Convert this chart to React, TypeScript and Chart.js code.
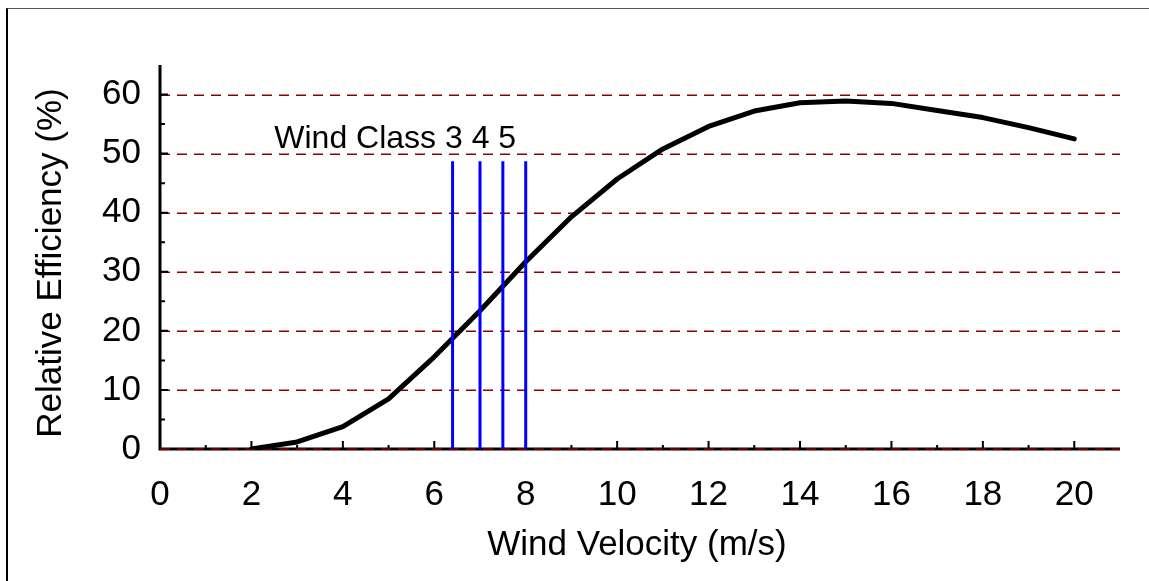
import React, { useEffect, useRef } from "react";
import { Chart, registerables } from "chart.js";

Chart.register(...registerables);

// ---- data ----
const velocity = [2, 3, 4, 5, 6, 7, 8, 9, 10, 11, 12, 13, 14, 15, 16, 17, 18, 19, 20];
const efficiency = [0, 1.2, 3.8, 8.5, 15.6, 23.4, 31.7, 39.3, 45.7, 50.8, 54.6, 57.2, 58.6, 58.9, 58.5, 57.3, 56.1, 54.4, 52.5];
const classBounds = [6.4, 7.0, 7.5, 8.0];
const classLineTop = [48.7, 48.7, 48.7, 48.7];
const classLabel = "Wind Class 3 4 5";
const classLabelAnchor = [2.5, 50.9];
const xTickValues = [0, 2, 4, 6, 8, 10, 12, 14, 16, 18, 20];
const yTickValues = [0, 10, 20, 30, 40, 50, 60];
const xTitle = "Wind Velocity (m/s)";
const yTitle = "Relative Efficiency (%)";

const FONT = "'Liberation Sans', Arial, sans-serif";
const GRID_RED = "#8b0000";

const axesPlugin = {
  id: "customAxes",
  beforeDatasetsDraw(chart: any) {
    const { ctx, chartArea } = chart;
    const xs = chart.scales.x;
    const ys = chart.scales.y;
    const left = chartArea.left;
    const right = chartArea.right;
    const bottom = ys.getPixelForValue(0);
    const top = chartArea.top;

    ctx.save();
    // dashed grid lines
    ctx.strokeStyle = GRID_RED;
    ctx.lineWidth = 1.5;
    ctx.setLineDash([10, 7]);
    ctx.lineDashOffset = 0;
    yTickValues.forEach((v) => {
      if (v === 0) return;
      const py = Math.round(ys.getPixelForValue(v)) + 0.25;
      ctx.beginPath();
      ctx.moveTo(left, py);
      ctx.lineTo(right, py);
      ctx.stroke();
    });
    ctx.setLineDash([]);

    // axes lines
    ctx.strokeStyle = "#000";
    ctx.lineWidth = 3;
    ctx.beginPath();
    ctx.moveTo(left, top);
    ctx.lineTo(left, bottom);
    ctx.moveTo(left - 1.5, bottom);
    ctx.lineTo(right, bottom);
    ctx.stroke();

    // ticks (inside)
    ctx.lineWidth = 2;
    ctx.beginPath();
    xTickValues.forEach((v) => {
      const px = xs.getPixelForValue(v);
      ctx.moveTo(px, bottom);
      ctx.lineTo(px, bottom - 8);
      const mid = v + 1;
      if (mid < xs.max) {
        const pm = xs.getPixelForValue(mid);
        ctx.moveTo(pm, bottom);
        ctx.lineTo(pm, bottom - 4);
      }
    });
    yTickValues.forEach((v) => {
      const py = ys.getPixelForValue(v);
      ctx.moveTo(left, py);
      ctx.lineTo(left + 8, py);
      const mid = v + 5;
      if (mid < ys.max) {
        const pm = ys.getPixelForValue(mid);
        ctx.moveTo(left, pm);
        ctx.lineTo(left + 5, pm);
      }
    });
    ctx.stroke();

    // zero grid line over the axis
    ctx.strokeStyle = GRID_RED;
    ctx.lineWidth = 1.5;
    ctx.setLineDash([10, 7]);
    ctx.beginPath();
    ctx.moveTo(left, bottom);
    ctx.lineTo(right, bottom);
    ctx.stroke();
    ctx.setLineDash([]);

    // titles
    ctx.fillStyle = "#000";
    ctx.font = `35px ${FONT}`;
    ctx.textAlign = "center";
    ctx.textBaseline = "alphabetic";
    ctx.fillText(xTitle, (left + right) / 2 - 3, bottom + 106);
    ctx.save();
    ctx.translate(61, (top + bottom) / 2 + 6);
    ctx.rotate(-Math.PI / 2);
    ctx.fillText(yTitle, 0, 0);
    ctx.restore();
    ctx.restore();
  },
  afterDatasetsDraw(chart: any) {
    const { ctx } = chart;
    const xs = chart.scales.x;
    const ys = chart.scales.y;
    ctx.save();
    ctx.fillStyle = "#000";
    ctx.font = `32px ${FONT}`;
    ctx.textAlign = "left";
    ctx.textBaseline = "alphabetic";
    ctx.fillText(classLabel, xs.getPixelForValue(classLabelAnchor[0]), ys.getPixelForValue(classLabelAnchor[1]));
    ctx.restore();
  },
};

export default function App() {
  const canvasRef = useRef<HTMLCanvasElement | null>(null);

  useEffect(() => {
    if (!canvasRef.current) return;
    const classSets = classBounds.map((b, i) => ({
      label: `class-${i}`,
      data: [
        { x: b, y: 0 },
        { x: b, y: classLineTop[i] },
      ],
      borderColor: "#0000ff",
      borderWidth: 3,
      pointRadius: 0,
      fill: false,
      order: 0,
    }));
    const chart = new Chart(canvasRef.current, {
      type: "line",
      data: {
        datasets: [
          ...classSets,
          {
            label: "efficiency",
            data: velocity.map((v, i) => ({ x: v, y: efficiency[i] })),
            borderColor: "#000",
            borderWidth: 5,
            pointRadius: 0,
            tension: 0,
            fill: false,
            borderCapStyle: "round",
            borderJoinStyle: "round",
            order: 1,
          } as any,
        ],
      },
      options: {
        animation: false,
        responsive: false,
        devicePixelRatio: 1,
        layout: { padding: { top: 65, right: 29, left: 0, bottom: 0 } },
        plugins: { legend: { display: false }, tooltip: { enabled: false } },
        scales: {
          x: {
            type: "linear",
            min: 0,
            max: 21,
            afterBuildTicks: (s: any) => {
              s.ticks = xTickValues.map((v) => ({ value: v }));
            },
            afterFit: (s: any) => {
              s.height = 132;
            },
            ticks: {
              font: { size: 35, family: FONT },
              color: "#000",
              padding: 17,
              maxRotation: 0,
              autoSkip: false,
            },
            grid: { display: false },
            border: { display: false },
          },
          y: {
            type: "linear",
            min: 0,
            max: 65,
            afterBuildTicks: (s: any) => {
              s.ticks = yTickValues.map((v) => ({ value: v }));
            },
            afterFit: (s: any) => {
              s.width = 160;
            },
            ticks: {
              font: { size: 35, family: FONT },
              color: "#000",
              padding: 11,
              autoSkip: false,
            },
            grid: { display: false },
            border: { display: false },
          },
        },
      },
      plugins: [axesPlugin],
    });
    return () => chart.destroy();
  }, []);

  return (
    <div style={{ position: "fixed", left: 0, top: 0, width: 1149, height: 581, background: "#fff" }}>
      <canvas ref={canvasRef} width={1149} height={581} style={{ position: "absolute", left: 0, top: 0 }} />
      <div
        style={{
          position: "absolute",
          left: 6,
          top: 8,
          width: 1149 - 6,
          height: 581 - 8,
          borderTop: "1px solid #555",
          borderLeft: "2px solid #000",
          boxSizing: "border-box",
          pointerEvents: "none",
        }}
      />
    </div>
  );
}
